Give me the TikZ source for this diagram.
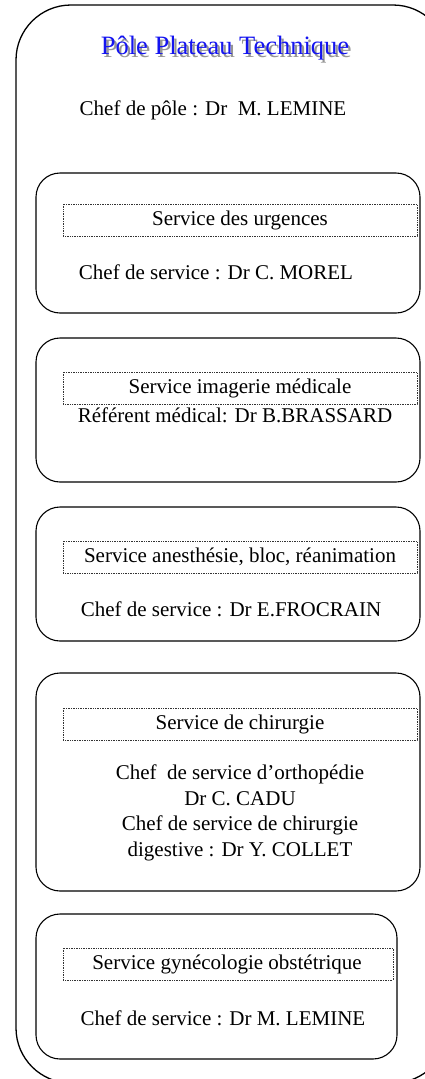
\documentclass[tikz,border=0pt]{standalone}
\usepackage{fontspec}
\setmainfont{Liberation Serif}
\definecolor{titleblue}{RGB}{20,20,240}
\definecolor{shadowgray}{RGB}{150,150,150}
\tikzset{
  outerbox/.style={draw=black, line width=1.3pt, rounded corners=55pt},
  svcbox/.style={draw=black, line width=1.1pt, rounded corners=24pt},
  dotbox/.style={draw=black!80, densely dotted, line width=0.7pt},
  txt/.style={font=\fontsize{21}{25}\selectfont, inner sep=0pt, align=center, anchor=center},
  ttl/.style={font=\fontsize{26.5}{30}\selectfont, inner sep=0pt, anchor=center}
}
\begin{document}
\begin{tikzpicture}[x=1pt,y=-1pt]
\useasboundingbox (0,0) rectangle (425,1079);
\clip (0,0) rectangle (425,1079);
% outer pole box
\draw[outerbox] (16,5) rectangle (448,1083);
% title with shadow
\node[ttl, text=shadowgray] (titleshadow) at (227.5,51) {Pôle Plateau Technique};
\node[ttl, text=titleblue] (title) at (225,48) {Pôle Plateau Technique};
\node[txt] (chefpole) at (213,110) {Chef de pôle : Dr\ \ M. LEMINE};
% service boxes
\draw[svcbox] (36,173) rectangle (420,313);
\draw[svcbox] (36,338) rectangle (420,482);
\draw[svcbox] (36,507) rectangle (420,641);
\draw[svcbox] (36,673) rectangle (420,891);
\draw[svcbox] (36,914) rectangle (397,1059);
% dotted title boxes
\draw[dotbox] (63,204) rectangle (417,236);
\draw[dotbox] (63,372) rectangle (417,404);
\draw[dotbox] (63,541) rectangle (417,573);
\draw[dotbox] (63,708) rectangle (417,740);
\draw[dotbox] (63,948) rectangle (393,980);
% texts
\node[txt] (s1) at (240,220) {Service des urgences};
\node[txt] (c1) at (216,272) {Chef de service : Dr C. MOREL};
\node[txt] (s2) at (240,388) {Service imagerie médicale};
\node[txt] (c2) at (235,415) {Référent médical: Dr B.BRASSARD};
\node[txt] (s3) at (240,557) {Service anesthésie, bloc, réanimation};
\node[txt] (c3) at (231,609) {Chef de service : Dr E.FROCRAIN};
\node[txt] (s4) at (240,724) {Service de chirurgie};
\node[txt, font=\fontsize{21}{25.5}\selectfont] (c4) at (240,813) {Chef\ \ de service d’orthopédie\\Dr C. CADU\\Chef de service de chirurgie\\digestive : Dr Y. COLLET};
\node[txt] (s5) at (227,964) {Service gynécologie obstétrique};
\node[txt] (c5) at (223,1018) {Chef de service : Dr M. LEMINE};
\end{tikzpicture}
\end{document}
